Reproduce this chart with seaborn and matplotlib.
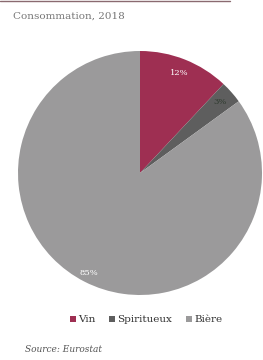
import matplotlib
matplotlib.use("Agg")
import matplotlib.pyplot as plt
import seaborn as sns
import numpy as np
from matplotlib.patches import Patch

sns.set_style("white")
plt.rcParams['font.family'] = ['DejaVu Serif', 'DejaVu Sans']

categories = ["Vin", "Spiritueux", "Bière"]
values = [12, 3, 85]
labels_pct = ["12%", "3%", "85%"]
colors = ["#9e2f52", "#5e5e5e", "#9b9a9b"]
title = "Consommation, 2018"
source = "Source: Eurostat"

fig = plt.figure(figsize=(2.63, 3.6), dpi=100)
ax = fig.add_axes([18/263, (360-173-122)/360, 244/263, 244/360])
wedges, _ = ax.pie(values, colors=colors, startangle=90, counterclock=False,
                   radius=1, wedgeprops=dict(linewidth=0))
cum = np.cumsum([0] + values)
for i, (lab, v) in enumerate(zip(labels_pct, values)):
    mid = 90 - 3.6 * (cum[i] + v / 2)
    r = 0.88 if i < 2 else 0.92
    x, y = r * np.cos(np.radians(mid)), r * np.sin(np.radians(mid))
    col = "#2e3a2e" if i == 1 else "white"
    ax.text(x, y, lab, ha="center", va="center", fontsize=6, color=col)
ax.set_xlim(-1, 1)
ax.set_ylim(-1, 1)
ax.set_aspect("equal")
ax.axis("off")

fig.text(13/263, 1 - 16/360, title, fontsize=7.5, color="#777777", ha="left", va="center")
fig.add_artist(plt.Line2D([0, 230/263], [1 - 1/360, 1 - 1/360], color="#8a6a70", linewidth=1, transform=fig.transFigure))

handles = [Patch(facecolor=c, edgecolor="none") for c in colors]
fig.legend(handles, categories, loc="center", bbox_to_anchor=(146/263, 1 - 320/360),
           ncol=3, frameon=False, fontsize=7.5, handlelength=0.6, handleheight=0.6,
           handletextpad=0.2, columnspacing=1.3, labelcolor="#333333")

fig.text(25/263, 1 - 350/360, source, fontsize=6.5, color="#555555", ha="left", va="center", style="italic")

fig.savefig("out.png", dpi=100)
